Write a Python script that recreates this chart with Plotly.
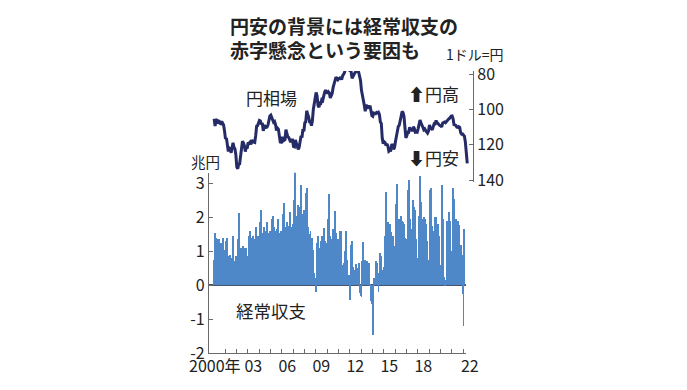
import plotly.graph_objects as go

# ---------------- data ----------------
# USD/JPY monthly (yen per dollar), Jan 2000 .. Apr 2022, plus latest reading
yen_2000 = [105.3, 109.4, 106.3, 105.6, 108.1, 106.1, 107.8, 108.1, 106.8, 108.4, 108.9, 112.2]
yen_2001 = [116.7, 116.2, 121.5, 123.8, 121.8, 122.2, 124.6, 121.5, 118.9, 121.5, 122.3, 125.7]
yen_2002 = [132.7, 133.6, 131.1, 130.8, 126.4, 123.3, 118.0, 119.0, 120.5, 123.9, 121.6, 122.2]
yen_2003 = [118.7, 119.3, 118.6, 119.8, 117.4, 118.3, 118.7, 118.7, 114.8, 109.5, 109.2, 107.7]
yen_2004 = [106.3, 106.6, 108.5, 107.7, 112.2, 109.4, 109.4, 110.2, 110.0, 108.9, 104.9, 103.8]
yen_2005 = [103.3, 104.9, 105.3, 107.3, 106.9, 108.6, 111.9, 110.6, 111.2, 114.9, 118.5, 118.6]
yen_2006 = [115.5, 117.9, 117.3, 117.1, 111.5, 114.6, 115.6, 115.9, 117.2, 118.6, 117.3, 117.3]
yen_2007 = [121.0, 121.2, 117.3, 118.8, 120.8, 122.6, 121.6, 116.7, 115.0, 115.9, 111.2, 112.4]
yen_2008 = [107.6, 107.1, 100.8, 102.6, 104.1, 106.9, 106.8, 109.3, 106.6, 100.1, 96.9, 91.3]
yen_2009 = [90.4, 92.5, 97.8, 98.8, 96.4, 96.6, 94.5, 94.9, 91.3, 90.3, 89.1, 89.9]
yen_2010 = [91.1, 90.1, 90.7, 93.5, 91.8, 90.9, 87.6, 85.4, 84.4, 81.8, 82.6, 83.3]
yen_2011 = [82.6, 82.6, 81.8, 83.2, 81.1, 80.5, 79.3, 77.0, 76.8, 76.7, 77.5, 77.8]
yen_2012 = [76.9, 78.5, 82.5, 81.3, 79.7, 79.3, 78.9, 78.7, 78.2, 78.9, 80.9, 83.6]
yen_2013 = [89.2, 93.2, 94.8, 97.7, 101.1, 97.3, 99.7, 97.8, 99.3, 97.8, 100.1, 103.5]
yen_2014 = [103.9, 102.1, 102.3, 102.5, 101.8, 102.1, 101.7, 102.9, 107.1, 108.0, 116.4, 119.4]
yen_2015 = [118.3, 118.8, 120.4, 119.5, 120.8, 123.7, 123.3, 123.2, 120.2, 120.1, 122.6, 121.6]
yen_2016 = [118.2, 114.7, 112.9, 109.6, 109.0, 105.4, 103.9, 101.3, 101.8, 103.9, 108.6, 116.1]
yen_2017 = [114.9, 113.0, 113.0, 110.1, 112.2, 110.9, 112.4, 109.8, 110.9, 112.9, 112.8, 112.9]
yen_2018 = [110.9, 107.8, 106.0, 107.6, 109.7, 110.1, 111.5, 111.0, 112.0, 112.8, 113.4, 112.3]
yen_2019 = [108.9, 110.4, 111.2, 111.6, 109.8, 108.1, 108.2, 106.3, 107.5, 108.1, 108.9, 109.1]
yen_2020 = [109.3, 110.0, 107.7, 107.6, 107.2, 107.6, 106.8, 106.1, 105.6, 105.2, 104.4, 103.8]
yen_2021 = [103.7, 105.4, 108.7, 109.1, 109.1, 110.1, 110.2, 109.8, 110.2, 113.1, 114.0, 113.9]
yen_2022 = [114.8, 115.2, 118.5, 126.0, 130.5]

# Current account, monthly (trillion yen), Jan 2000 .. Feb 2022
ca_2000 = [0.74, 1.54, 1.40, 1.35, 1.20, 1.35, 1.05, 1.25, 0.90, 1.40, 0.85, 1.05]
ca_2001 = [0.30, 1.30, 1.40, 0.85, 0.60, 0.90, 0.80, 0.70, 1.45, 0.70, 0.65, 0.85]
ca_2002 = [0.70, 1.35, 2.13, 1.05, 1.10, 0.95, 1.00, 1.15, 1.10, 1.00, 1.10, 0.85]
ca_2003 = [0.50, 1.45, 1.60, 1.30, 1.40, 1.45, 1.25, 1.35, 1.70, 1.40, 1.45, 1.35]
ca_2004 = [0.95, 1.85, 2.22, 1.55, 1.50, 1.70, 1.60, 1.50, 1.85, 1.55, 1.40, 1.60]
ca_2005 = [0.90, 1.95, 2.05, 1.70, 1.30, 1.60, 1.40, 1.65, 1.95, 1.55, 1.30, 1.60]
ca_2006 = [1.05, 2.10, 2.42, 1.70, 1.30, 1.85, 1.55, 1.75, 2.15, 1.70, 1.55, 1.80]
ca_2007 = [1.25, 2.50, 3.35, 2.05, 1.95, 2.35, 2.05, 2.30, 2.95, 2.10, 1.80, 2.20]
ca_2008 = [1.10, 2.70, 2.87, 1.70, 1.45, 1.50, 1.60, 1.15, 1.40, 1.05, 0.35, 0.20]
ca_2009 = [-0.20, 1.25, 1.45, 1.00, 1.10, 1.30, 1.45, 1.35, 1.68, 1.30, 1.25, 1.20]
ca_2010 = [0.85, 1.95, 2.69, 1.45, 1.35, 1.20, 1.65, 1.05, 2.17, 1.55, 1.20, 1.35]
ca_2011 = [0.50, 1.60, 1.60, 0.45, 0.60, 0.65, 1.00, 0.40, 1.60, 0.75, 0.15, 0.30]
ca_2012 = [-0.44, 1.18, 1.30, 0.53, 0.33, 0.45, 0.63, 0.45, 0.50, 0.65, -0.24, -0.33]
ca_2013 = [-0.36, 0.72, 1.27, 0.70, 0.75, 0.50, 0.70, 0.35, 0.65, 0.05, -0.45, -0.55]
ca_2014 = [-1.45, 0.20, 0.15, 0.70, 0.55, 0.65, -0.20, 0.35, 0.95, 0.85, 0.45, 0.25]
ca_2015 = [0.55, 1.45, 2.75, 1.35, 1.86, 0.60, 1.80, 1.57, 1.42, 1.45, 1.15, 0.95]
ca_2016 = [0.55, 2.40, 2.98, 1.85, 1.95, 0.95, 2.05, 1.90, 1.85, 1.80, 1.40, 1.35]
ca_2017 = [0.65, 2.80, 3.10, 1.95, 1.65, 0.95, 2.35, 2.50, 2.30, 2.20, 1.35, 0.80]
ca_2018 = [0.60, 2.05, 3.20, 2.45, 1.95, 1.25, 2.00, 1.95, 1.80, 1.30, 0.75, 0.45]
ca_2019 = [0.60, 2.80, 2.85, 1.75, 1.60, 1.25, 2.00, 2.00, 1.60, 1.80, 1.45, 0.55]
ca_2020 = [0.60, 2.94, 1.95, 0.25, 0.02, 0.15, 1.50, 1.90, 1.65, 2.15, 1.90, 1.00]
ca_2021 = [0.65, 2.85, 2.55, 1.30, 1.95, 0.90, 1.90, 1.76, 1.00, 1.18, 0.88, -0.27]
ca_2022 = [-1.19, 1.64]

x_tick_vals = [2000.1, 2003.5, 2006.5, 2009.5, 2012.5, 2015.5, 2018.5, 2022.6]
x_tick_text = ["2000年", "03", "06", "09", "12", "15", "18", "22"]
year_ticks = list(range(2001, 2023))
ca_ticks = [-2, -1, 0, 1, 2, 3]
yen_ticks = [80, 100, 120, 140]

yen = (yen_2000 + yen_2001 + yen_2002 + yen_2003 + yen_2004 + yen_2005 + yen_2006 +
       yen_2007 + yen_2008 + yen_2009 + yen_2010 + yen_2011 + yen_2012 + yen_2013 +
       yen_2014 + yen_2015 + yen_2016 + yen_2017 + yen_2018 + yen_2019 + yen_2020 +
       yen_2021 + yen_2022)
ca = (ca_2000 + ca_2001 + ca_2002 + ca_2003 + ca_2004 + ca_2005 + ca_2006 + ca_2007 +
      ca_2008 + ca_2009 + ca_2010 + ca_2011 + ca_2012 + ca_2013 + ca_2014 + ca_2015 +
      ca_2016 + ca_2017 + ca_2018 + ca_2019 + ca_2020 + ca_2021 + ca_2022)

yen_x = [2000 + (i + 0.5) / 12 for i in range(len(yen))]
ca_x = [2000 + (i + 0.5) / 12 for i in range(len(ca))]

# ---------------- layout geometry (screen pixels) ----------------
W, H = 687, 390
OFF = 8               # page body margin that offsets the plot in the browser
PXY = 11.333          # px per year
X0 = 1999.588         # year at left axis (px 209)
L = 209


def px2yr(px):
    return X0 + (px - L) / PXY


def fx(px):
    return (px - OFF) / W


def fy(py):
    return (H - (py - OFF)) / H


FONT = "Noto Sans CJK JP"
BAR_C = "#4f88c9"
LINE_C = "#252b66"
AX_C = "#6b6b6b"
TXT_C = "#222222"

fig = go.Figure()
fig.add_trace(go.Bar(x=ca_x, y=ca, width=1 / 12, marker=dict(color=BAR_C, line=dict(width=0)),
                     xaxis="x", yaxis="y", showlegend=False, hoverinfo="skip"))
fig.add_trace(go.Scatter(x=yen_x, y=yen, mode="lines", line=dict(color=LINE_C, width=3),
                         xaxis="x2", yaxis="y2", showlegend=False, hoverinfo="skip"))
fig.add_trace(go.Scatter(x=[], y=[], xaxis="x3", yaxis="y3", showlegend=False))

BOT_DOM = [fy(353), fy(172.8)]
LBL_DOM = [fy(355), fy(172.8)]

fig.update_layout(
    template="none",
    width=W, height=H, margin=dict(l=0, r=0, t=0, b=0, pad=0, autoexpand=False),
    paper_bgcolor="white", plot_bgcolor="rgba(0,0,0,0)",
    font=dict(family=FONT, color=TXT_C),
    bargap=0, showlegend=False,
    xaxis=dict(domain=[fx(209), fx(466)], range=[X0, px2yr(466)], anchor="y", automargin=False,
               showgrid=False, zeroline=False, showline=True, linecolor=AX_C, linewidth=1.2,
               tickmode="array", tickvals=year_ticks, ticks="inside", ticklen=4,
               tickcolor=AX_C, showticklabels=False),
    yaxis=dict(domain=BOT_DOM, range=[-2, 3.3], anchor="x", automargin=False,
               showgrid=False, showline=True, linecolor=AX_C, linewidth=1.2,
               zeroline=True, zerolinecolor="#45556e", zerolinewidth=1.5,
               tickmode="array", tickvals=ca_ticks, ticktext=[str(v) for v in ca_ticks],
               ticks="inside", ticklen=4, tickcolor=AX_C,
               tickfont=dict(size=16, color=TXT_C, family=FONT)),
    xaxis2=dict(domain=[fx(209), fx(473)], range=[X0, px2yr(473)], anchor="y2",
                automargin=False, visible=False),
    yaxis2=dict(domain=[fy(182), fy(71)], range=[141.1, 78.3], anchor="x2", side="right",
                automargin=False,
                showgrid=False, zeroline=False, showline=True, linecolor=AX_C, linewidth=1.2,
                tickmode="array", tickvals=yen_ticks, ticks="inside", ticklen=4,
                tickcolor=AX_C, tickfont=dict(size=16, color=TXT_C, family=FONT)),
    xaxis3=dict(domain=[fx(209), fx(495)], range=[X0, px2yr(495)], anchor="y3",
                automargin=False,
                showgrid=False, zeroline=False, showline=False, ticks="",
                tickmode="array", tickvals=x_tick_vals, ticktext=x_tick_text,
                tickfont=dict(size=16, color=TXT_C, family=FONT)),
    yaxis3=dict(domain=LBL_DOM, range=[-2, 3.3], anchor="x3", automargin=False,
                visible=False, showgrid=False, zeroline=False),
)

ann = [
    dict(text="<b>円安の背景には経常収支の</b>", x=fx(228), y=fy(25.5), size=19),
    dict(text="<b>赤字懸念という要因も</b>", x=fx(228), y=fy(49.5), size=19),
    dict(text="1ドル=円", x=fx(444), y=fy(54), size=14),
    dict(text="円相場", x=fx(244), y=fy(98), size=17),
    dict(text="⬆円高", x=fx(406), y=fy(93), size=17),
    dict(text="⬇円安", x=fx(406), y=fy(157), size=17),
    dict(text="兆円", x=fx(189), y=fy(161), size=14.5),
    dict(text="経常収支", x=fx(234), y=fy(310), size=17.5),
]
for a in ann:
    fig.add_annotation(text=a["text"], x=a["x"], y=a["y"], xref="paper", yref="paper",
                       xanchor="left", yanchor="middle", showarrow=False,
                       font=dict(size=a["size"], color=TXT_C, family=FONT))

fig.write_html("out.html")
